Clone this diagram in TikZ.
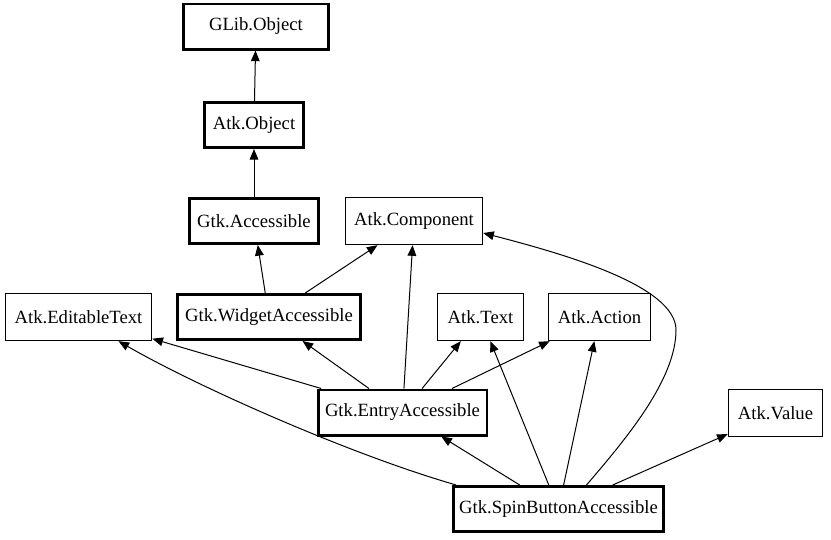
\documentclass[tikz,border=0pt]{standalone}
\usepackage{fontspec}
\setmainfont{Liberation Serif}
\usetikzlibrary{arrows.meta,calc}

\tikzset{
  cls/.style={draw, line width=2pt, minimum height=34pt, inner xsep=3pt, font=\fontsize{14}{17}\selectfont},
  iface/.style={draw, line width=0.75pt, minimum height=35.5pt, inner xsep=3pt, font=\fontsize{14}{17}\selectfont},
  inherit/.style={line width=0.75pt, -{Triangle[length=8pt,width=6.5pt]}}
}

\begin{document}
\begin{tikzpicture}[x=0.75pt,y=-0.75pt]
        \useasboundingbox (0,0) rectangle (831,539);

        % Classes (thick boxes)
        \node[cls, minimum width=108.5pt] (glib) at (256,26.5) {GLib.Object};
        \node[cls, minimum width=74.5pt] (atkobj) at (254,125) {Atk.Object};
        \node[cls, minimum width=97pt] (gtkacc) at (254,221) {Gtk.Accessible};
        \node[cls, minimum width=137pt] (widget) at (269,317) {Gtk.WidgetAccessible};
        \node[cls, minimum width=126.5pt] (entry) at (402.5,412.5) {Gtk.EntryAccessible};
        \node[cls, minimum width=157.5pt] (spin) at (558.5,509) {Gtk.SpinButtonAccessible};

        % Interfaces (thin boxes)
        \node[iface, minimum width=103pt] (comp) at (414,221) {Atk.Component};
        \node[iface, minimum width=110pt] (edit) at (78.5,317) {Atk.EditableText};
        \node[iface, minimum width=65pt] (text) at (480.5,317) {Atk.Text};
        \node[iface, minimum width=77pt] (action) at (599.5,317) {Atk.Action};
        \node[iface, minimum width=71pt] (value) at (775.5,413) {Atk.Value};

        % Inheritance chain
        \draw[inherit] (atkobj) -- (glib);
        \draw[inherit] (gtkacc) -- (atkobj);
        \draw[inherit] (widget) -- (gtkacc);
        \draw[inherit] (widget) -- (comp);

        % Gtk.EntryAccessible
        \draw[inherit] (entry) -- (edit);
        \draw[inherit] (entry) -- (widget);
        \draw[inherit] (entry) -- (comp);
        \draw[inherit] (entry) -- (text);
        \draw[inherit] (entry) -- (action);

        % Gtk.SpinButtonAccessible
        \draw[inherit] (spin) -- (entry);
        \draw[inherit] (spin) -- (text);
        \draw[inherit] (spin) -- (action);
        \draw[inherit] (spin) -- (value);
        \draw[inherit] ($(spin.north west)+(4,0)$) .. controls (352,455) and (200,388) .. ($(edit.south)+(40,0)$);
        \draw[inherit] ($(spin.north)+(28,0)$) .. controls (625,440) and (676,380) .. (676,330)
                       .. controls (676,285) and (560,253) .. ($(comp.east)+(0,12)$);

      \end{tikzpicture}
\end{document}
